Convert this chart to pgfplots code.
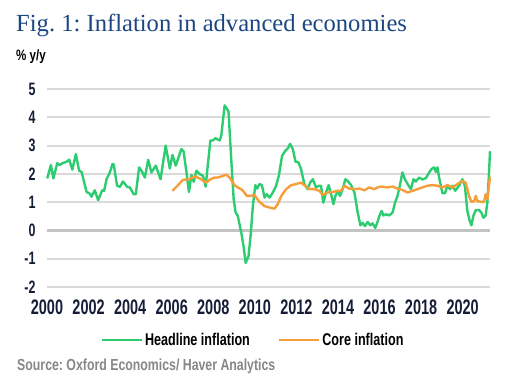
\documentclass[border=0pt]{standalone}
\usepackage{pgfplots}
\pgfplotsset{compat=1.18}
\usepackage{pgfplotstable}
\usepackage{fontspec}
\setmainfont{Liberation Serif}
\newfontfamily\condA[FakeStretch=0.69]{Liberation Sans}
\newfontfamily\condB[FakeStretch=0.74]{Liberation Sans}
\newfontfamily\condC[FakeStretch=0.77]{Liberation Sans}
\definecolor{headc}{RGB}{46,204,113}
\definecolor{corec}{RGB}{245,158,58}
\definecolor{titlec}{RGB}{28,70,130}
\definecolor{tickc}{RGB}{22,30,55}
\definecolor{gridc}{RGB}{218,218,218}
\definecolor{zeroc}{RGB}{195,195,195}
\definecolor{srcc}{RGB}{135,135,135}

\pgfplotstableread{
x y
2000.01 1.84
2000.19 2.31
2000.31 1.84
2000.50 2.38
2000.60 2.31
2000.76 2.38
2000.95 2.43
2001.08 2.50
2001.23 2.15
2001.40 2.70
2001.56 2.11
2001.68 2.07
2001.92 1.36
2002.08 1.30
2002.16 1.19
2002.32 1.42
2002.48 1.07
2002.68 1.42
2002.77 1.40
2002.89 1.81
2003.05 2.05
2003.18 2.35
2003.24 2.33
2003.40 1.58
2003.54 1.54
2003.69 1.73
2003.89 1.54
2004.02 1.52
2004.21 1.28
2004.31 1.28
2004.47 2.23
2004.59 2.11
2004.75 1.87
2004.91 2.50
2005.07 2.05
2005.28 2.29
2005.51 1.81
2005.76 3.00
2005.96 2.19
2006.09 2.67
2006.25 2.29
2006.52 2.88
2006.63 2.79
2006.77 2.05
2006.89 1.36
2007.01 1.96
2007.12 1.72
2007.25 2.11
2007.41 1.99
2007.57 1.93
2007.70 1.55
2007.81 2.35
2007.93 3.18
2008.05 3.18
2008.17 3.26
2008.38 3.18
2008.46 3.36
2008.62 4.42
2008.81 4.21
2008.94 2.53
2009.06 1.10
2009.15 0.65
2009.26 0.51
2009.43 -0.08
2009.54 -0.56
2009.64 -1.15
2009.78 -0.91
2009.88 -0.20
2009.99 0.86
2010.11 1.60
2010.20 1.48
2010.31 1.64
2010.43 1.60
2010.56 1.16
2010.67 1.28
2010.80 1.16
2010.96 1.34
2011.12 1.58
2011.25 1.93
2011.41 2.64
2011.57 2.82
2011.69 2.90
2011.80 3.06
2011.93 2.88
2012.06 2.43
2012.20 2.41
2012.33 2.17
2012.49 1.64
2012.65 1.46
2012.77 1.69
2012.90 1.81
2013.06 1.52
2013.19 1.58
2013.30 1.58
2013.41 0.98
2013.54 1.34
2013.67 1.60
2013.79 1.28
2013.90 0.93
2014.00 1.22
2014.11 1.40
2014.22 1.22
2014.35 1.46
2014.48 1.81
2014.59 1.75
2014.76 1.60
2014.92 1.34
2015.08 0.63
2015.21 0.18
2015.32 0.27
2015.43 0.15
2015.56 0.30
2015.69 0.18
2015.80 0.25
2015.93 0.09
2016.04 0.30
2016.13 0.51
2016.24 0.69
2016.33 0.53
2016.45 0.57
2016.61 0.53
2016.77 0.63
2016.89 0.98
2017.01 1.22
2017.14 1.64
2017.25 2.05
2017.37 1.81
2017.50 1.64
2017.66 1.46
2017.79 1.81
2017.90 1.73
2018.06 1.87
2018.22 1.80
2018.39 1.85
2018.55 2.05
2018.66 2.17
2018.79 2.23
2018.87 2.07
2018.95 2.23
2019.03 1.87
2019.19 1.32
2019.32 1.32
2019.43 1.58
2019.56 1.46
2019.68 1.58
2019.81 1.40
2020.00 1.58
2020.16 1.81
2020.28 1.58
2020.40 0.69
2020.52 0.33
2020.60 0.18
2020.69 0.51
2020.81 0.72
2020.97 0.72
2021.08 0.63
2021.18 0.45
2021.29 0.53
2021.37 0.98
2021.45 2.00
2021.50 2.80
}\headline

\pgfplotstableread{
x y
2006.09 1.40
2006.36 1.60
2006.60 1.79
2006.92 1.81
2007.17 1.91
2007.41 1.84
2007.73 1.69
2007.93 1.81
2008.14 1.87
2008.30 1.87
2008.46 1.91
2008.70 1.97
2008.86 1.87
2009.10 1.60
2009.26 1.52
2009.48 1.43
2009.70 1.22
2009.86 1.22
2010.07 1.25
2010.31 1.01
2010.56 0.86
2010.80 0.81
2011.04 0.77
2011.20 0.93
2011.37 1.22
2011.61 1.46
2011.85 1.60
2012.09 1.64
2012.33 1.69
2012.49 1.60
2012.74 1.46
2012.98 1.46
2013.22 1.40
2013.38 1.25
2013.62 1.34
2013.86 1.36
2014.11 1.40
2014.27 1.40
2014.43 1.58
2014.67 1.48
2014.92 1.46
2015.16 1.48
2015.40 1.42
2015.64 1.52
2015.88 1.46
2016.04 1.52
2016.21 1.55
2016.53 1.52
2016.77 1.55
2017.01 1.48
2017.25 1.43
2017.50 1.34
2017.74 1.40
2017.98 1.46
2018.22 1.52
2018.46 1.58
2018.71 1.60
2018.95 1.58
2019.19 1.52
2019.43 1.60
2019.68 1.52
2019.92 1.64
2020.16 1.75
2020.32 1.69
2020.48 1.22
2020.60 1.01
2020.73 1.04
2020.81 1.22
2020.89 1.04
2021.05 1.01
2021.21 1.01
2021.29 1.28
2021.37 1.10
2021.45 1.58
2021.50 1.90
}\core

\begin{document}
\frenchspacing
\begin{tikzpicture}[x=1pt,y=1pt]
\path[use as bounding box] (0,0) rectangle (528,386);
\node[anchor=base west, inner sep=0pt, text=titlec, font=\fontsize{24.6}{25}\selectfont] at (16,354) {Fig. 1: Inflation in advanced economies};
\node[anchor=base west, inner sep=0pt, text=black, font=\condC\bfseries\fontsize{15}{15}\selectfont] at (16,325) {\% y/y};
\node[anchor=base west, inner sep=0pt, text=srcc, font=\condC\bfseries\fontsize{16}{16}\selectfont] at (17,16) {Source: Oxford Economics/ Haver Analytics};
\begin{axis}[
  at={(47pt,99pt)}, anchor=south west,
  scale only axis, width=443pt, height=198pt,
  xmin=2000, xmax=2021.315, ymin=-2, ymax=5,
  xtick={2000,2002,...,2020}, ytick={-2,-1,...,5},
  axis line style={draw=none}, tick style={draw=none},
  ymajorgrids, grid style={gridc, line width=2pt},
  /pgf/number format/assume math mode=true,
  /pgf/number format/1000 sep={},
  xticklabel style={font=\condA\bfseries\fontsize{21}{21}\selectfont, text=tickc, yshift=-9pt},
  yticklabel style={font=\condA\bfseries\fontsize{18}{18}\selectfont, text=tickc, xshift=-8pt},
  legend style={at={(0.465,-0.268)}, anchor=center, draw=none, fill=none,
    legend columns=2, font=\condB\bfseries\fontsize{17}{17}\selectfont, text=black,
    /tikz/every even column/.append style={column sep=26pt}},
  legend image code/.code={\draw[#1, line width=2.5pt] (0pt,0pt) -- (40pt,0pt);},
  clip=false,
]
\draw[zeroc, line width=2.4pt] (axis cs:2000,0) -- (axis cs:2021.315,0);
\addplot[headc, line width=2.4pt, line join=round] table[x expr={2000+(\thisrow{x}-2000)*0.9914}, y=y] {\headline};
\addlegendentry{Headline inflation}
\addplot[corec, line width=2.4pt, line join=round] table[x expr={2000+(\thisrow{x}-2000)*0.9914}, y=y] {\core};
\addlegendentry{Core inflation}
\end{axis}
\end{tikzpicture}
\end{document}
